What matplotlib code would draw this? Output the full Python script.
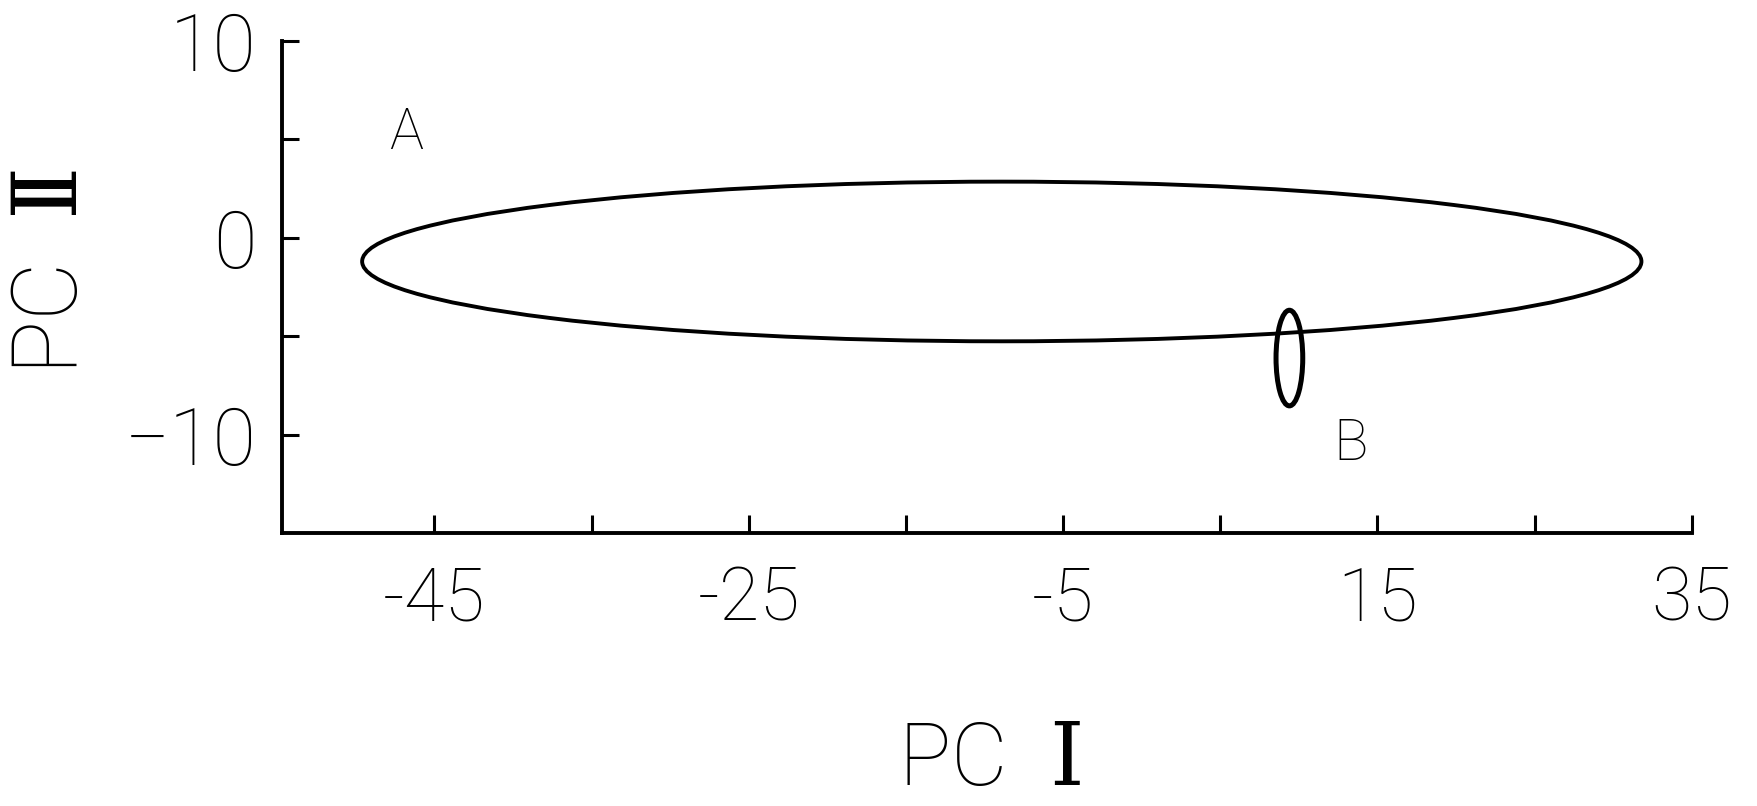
import matplotlib
matplotlib.use("Agg")
import matplotlib.pyplot as plt
from matplotlib.patches import Ellipse

# ---- data ----
group_labels = ["A", "B"]
ellipse_center_x = [-8.9, 9.4]
ellipse_center_y = [-1.2, -6.1]
ellipse_width = [81.4, 1.7]
ellipse_height = [8.1, 4.85]
label_x = [-46.8, 13.3]
label_y = [5.3, -10.5]

x_major_ticks = [-45, -25, -5, 15, 35]
x_major_labels = ["-45", "-25", "-5", "15", "35"]
x_minor_ticks = [-35, -15, 5, 25]
y_major_ticks = [10, 0, -10]
y_major_labels = ["10", "0", "\u221210"]
y_minor_ticks = [5, -5]
x_limits = (-54.7, 35)
y_limits = (-15, 10)
x_title = "PC  $\\mathrm{\u2160}$"
y_title = "PC  $\\mathrm{\u2161}$"

FONT = ["Roboto", "DejaVu Sans"]
plt.rcParams["font.family"] = FONT
plt.rcParams["mathtext.fontset"] = "custom"
plt.rcParams["mathtext.rm"] = "DejaVu Serif"
plt.rcParams["mathtext.it"] = "DejaVu Serif:italic"
plt.rcParams["mathtext.bf"] = "DejaVu Serif:bold"

fig = plt.figure(figsize=(17.58, 8.06), dpi=100)
ax = fig.add_axes([0.1604, 0.3381, 0.8019, 0.6114])

ax.set_xlim(*x_limits)
ax.set_ylim(*y_limits)

linewidths = [2.8, 3.6]
for cx, cy, w, h, lw in zip(ellipse_center_x, ellipse_center_y,
                            ellipse_width, ellipse_height, linewidths):
    ax.add_patch(Ellipse((cx, cy), w, h, fill=False, edgecolor="black",
                         linewidth=lw))

for t, lx, ly in zip(group_labels, label_x, label_y):
    ax.text(lx, ly, t, ha="center", va="center", fontsize=41,
            fontweight="light", color="black")

for s in ["top", "right"]:
    ax.spines[s].set_visible(False)
for s in ["left", "bottom"]:
    ax.spines[s].set_linewidth(2.8)
    ax.spines[s].set_color("black")

ax.set_xticks(x_major_ticks)
ax.set_xticklabels(x_major_labels)
ax.set_xticks(x_minor_ticks, minor=True)
ax.set_yticks(y_major_ticks)
ax.set_yticklabels(y_major_labels)
ax.set_yticks(y_minor_ticks, minor=True)

ax.tick_params(axis="x", which="both", direction="in", length=13, width=2.2,
               pad=22, labelsize=53)
ax.tick_params(axis="y", which="both", direction="in", length=12, width=2.2,
               pad=18, labelsize=57)
for lab in ax.get_xticklabels() + ax.get_yticklabels():
    lab.set_fontweight("light")

ax.set_xlabel(x_title, fontsize=63, fontweight="light")
ax.set_ylabel(y_title, fontsize=65, fontweight="light")
ax.xaxis.label.set_va("center")
ax.yaxis.label.set_va("center")
ax.yaxis.label.set_ha("center")
ax.xaxis.set_label_coords(0.5015, -0.462)
ax.yaxis.set_label_coords(-0.163, 0.53)

fig.savefig("out.png", dpi=100, facecolor="white")
